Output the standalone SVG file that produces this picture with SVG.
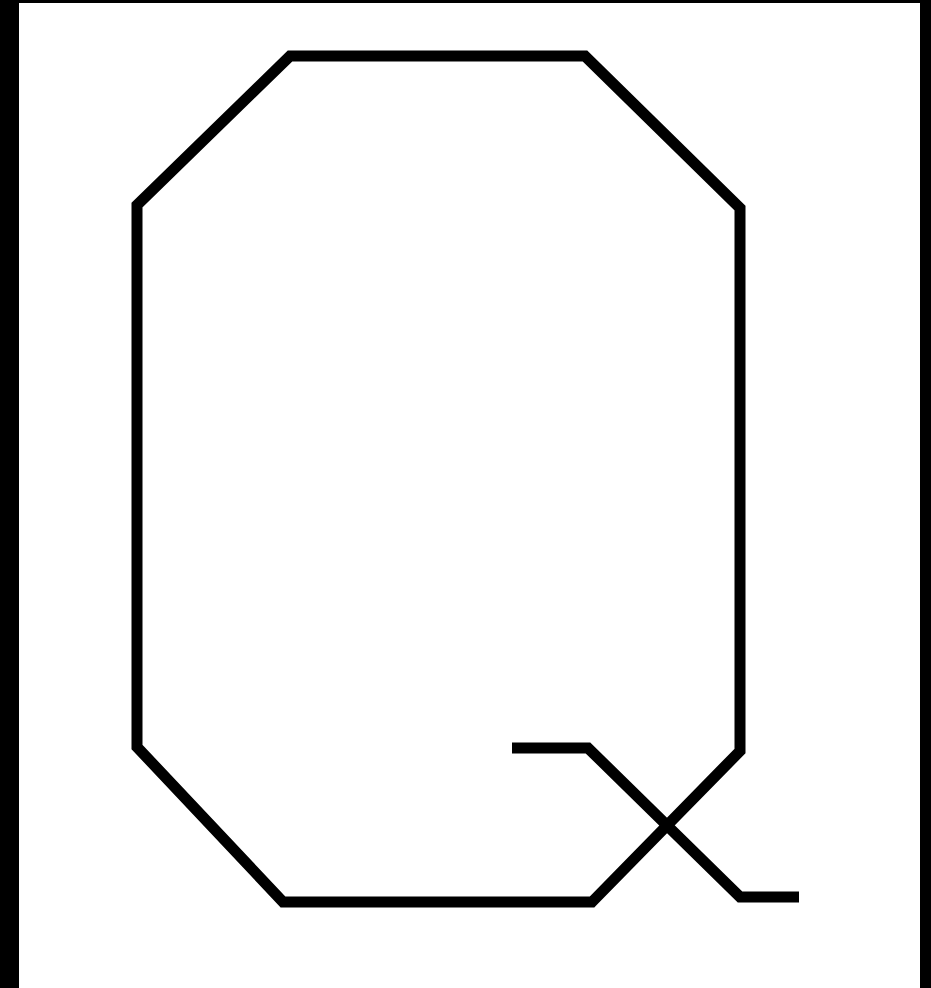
<svg xmlns="http://www.w3.org/2000/svg" width="931" height="988" viewBox="0 0 931 988">
<style>.s{fill:none;stroke:#000;stroke-width:11;stroke-linejoin:miter;stroke-linecap:butt}</style>
<rect x="0" y="0" width="931" height="988" fill="#fff"/>
<rect x="0" y="0" width="19" height="988" fill="#000"/>
<rect x="0" y="0" width="931" height="3" fill="#000"/>
<rect x="920" y="0" width="11" height="988" fill="#000"/>
<g id="q">
<polygon class="s" points="592,902 740,751 740,208 585,56 290,56 137,205 137,747 283,902"/>
<polyline class="s" points="512,748 588,748 740,897 799,897"/>
</g>
</svg>
